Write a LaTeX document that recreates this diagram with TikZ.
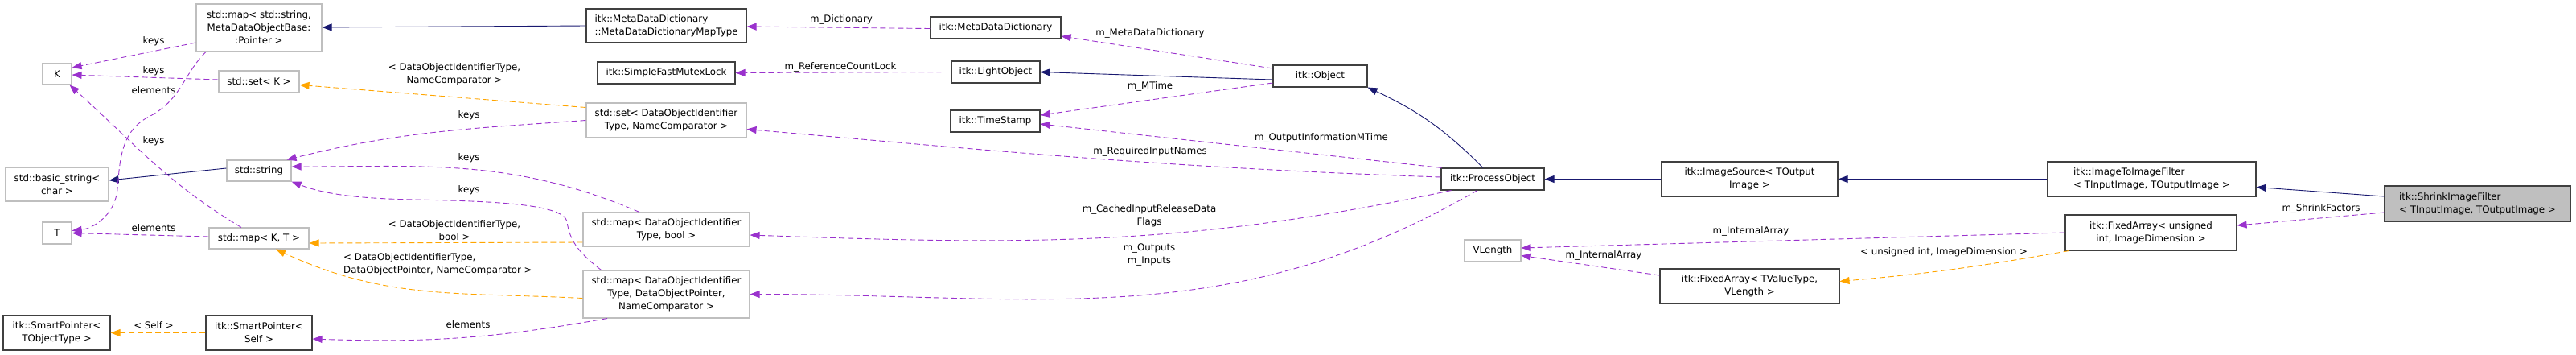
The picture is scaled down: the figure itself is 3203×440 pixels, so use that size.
\documentclass[tikz,border=0pt]{standalone}
\usepackage{fontspec}
\setmainfont{DejaVu Sans}
\usetikzlibrary{arrows.meta}
\definecolor{dxnavy}{HTML}{191970}
\definecolor{dxpurple}{HTML}{9A32CD}
\definecolor{dxorange}{HTML}{FFA500}
\definecolor{dxgray}{HTML}{BFBFBF}
\definecolor{dxdark}{HTML}{404040}

\begin{document}
\begin{tikzpicture}[x=1pt, y=1pt,
    font=\fontsize{11.8}{16}\selectfont,
    clsbox/.style={draw=dxdark, fill=white, line width=1.1pt, inner sep=0pt, align=center},
    extbox/.style={clsbox, draw=dxgray},
    inhedge/.style={draw=dxnavy, line width=0.9pt, -{Triangle[length=12pt,width=9pt]}},
    usesedge/.style={draw=dxpurple, line width=0.9pt, dash pattern=on 7pt off 4pt,
                     -{Triangle[length=12pt,width=9pt]}},
    tmpledge/.style={usesedge, draw=dxorange},
    edgelbl/.style={inner sep=0pt, align=center}
  ]
    \useasboundingbox (0,0) rectangle (3203,-440);

    % classes
    \node[extbox, minimum width=156pt, minimum height=59pt] (mapss) at (322,-34.5)
      {std::map< std::string,\\MetaDataObjectBase:\\:Pointer >};
    \node[extbox, minimum width=36pt, minimum height=26pt] (K) at (71,-92) {K};
    \node[extbox, minimum width=100pt, minimum height=27pt] (setK) at (322,-101.5) {std::set< K >};
    \node[extbox, minimum width=80pt, minimum height=26pt] (str) at (322,-212) {std::string};
    \node[extbox, minimum width=128pt, minimum height=42pt] (bstr) at (71,-229)
      {std::basic\_string<\\char >};
    \node[extbox, minimum width=36pt, minimum height=27pt] (T) at (71,-289.5) {T};
    \node[extbox, minimum width=124pt, minimum height=26pt] (mapKT) at (322,-296) {std::map< K, T >};
    \node[clsbox, minimum width=133pt, minimum height=43pt] (spT) at (70.5,-413.5)
      {itk::SmartPointer<\\TObjectType >};
    \node[clsbox, minimum width=132pt, minimum height=43pt] (spS) at (322,-413.5)
      {itk::SmartPointer<\\Self >};
    \node[clsbox, minimum width=199pt, minimum height=42pt, align=left] (mddmt) at (828.5,-32)
      {itk::MetaDataDictionary\\::MetaDataDictionaryMapType};
    \node[clsbox, minimum width=171pt, minimum height=27pt] (sfml) at (828.5,-90.5) {itk::SimpleFastMutexLock};
    \node[extbox, minimum width=199pt, minimum height=43pt] (setDOI) at (828.5,-149.5)
      {std::set< DataObjectIdentifier\\Type, NameComparator >};
    \node[extbox, minimum width=207pt, minimum height=42pt] (mapDOIb) at (828.5,-285)
      {std::map< DataObjectIdentifier\\Type, bool >};
    \node[extbox, minimum width=207pt, minimum height=59pt] (mapDOIp) at (828.5,-365.5)
      {std::map< DataObjectIdentifier\\Type, DataObjectPointer,\hspace*{38pt}\\NameComparator >};
    \node[clsbox, minimum width=162pt, minimum height=27pt] (mdd) at (1238,-34.5) {itk::MetaDataDictionary};
    \node[clsbox, minimum width=110pt, minimum height=27pt] (lobj) at (1238,-89.5) {itk::LightObject};
    \node[clsbox, minimum width=111pt, minimum height=27pt] (ts) at (1237.5,-150.5) {itk::TimeStamp};
    \node[clsbox, minimum width=117pt, minimum height=27pt] (obj) at (1641.5,-94.5) {itk::Object};
    \node[clsbox, minimum width=128pt, minimum height=27pt] (po) at (1856,-222.5) {itk::ProcessObject};
    \node[clsbox, minimum width=219pt, minimum height=43pt] (isrc) at (2175.5,-222.5)
      {itk::ImageSource< TOutput\\Image >};
    \node[extbox, minimum width=70pt, minimum height=27pt] (vlen) at (1856,-311.5) {VLength};
    \node[clsbox, minimum width=223pt, minimum height=43pt] (faTV) at (2175.5,-355.5)
      {itk::FixedArray< TValueType,\\VLength >};
    \node[clsbox, minimum width=259pt, minimum height=43pt, align=left] (i2i) at (2675.5,-222.5)
      {itk::ImageToImageFilter\\< TInputImage, TOutputImage >};
    \node[clsbox, minimum width=213pt, minimum height=44pt] (faUI) at (2674.5,-289)
      {itk::FixedArray< unsigned\\int, ImageDimension >};
    \node[clsbox, fill=dxgray, minimum width=231pt, minimum height=44pt, align=left] (sif) at (3080.5,-253)
      {itk::ShrinkImageFilter\\< TInputImage, TOutputImage >};

    % inheritance
    \draw[inhedge] (str.west) ++(0,3pt) -- ([yshift=5pt]bstr.east);
    \draw[inhedge] (mddmt.west) -- ([yshift=0.5pt]mapss.east);
    \draw[inhedge] ([yshift=-4.5pt]obj.west) -- (lobj.east);
    \draw[inhedge] ([xshift=-12pt]po.north) to[out=135,in=-25] (obj.south east);
    \draw[inhedge] (isrc.west) -- (po.east);
    \draw[inhedge] (i2i.west) -- (isrc.east);
    \draw[inhedge] ([yshift=9pt]sif.west) -- ([yshift=-10pt]i2i.east);

    % members
    \draw[usesedge] ([yshift=-18.5pt]mapss.west) -- ([yshift=8pt]K.east);
    \draw[usesedge] ([yshift=2.5pt]setK.west) -- ([yshift=-1pt]K.east);
    \draw[usesedge] ([xshift=-22pt]mapKT.north) to[out=149,in=-42] ([xshift=-3pt]K.south east);
    \draw[usesedge] ([xshift=-66pt]mapss.south)
      .. controls (228,-92) and (225,-125) .. (185,-145)
      .. controls (150,-163) and (149,-200) .. (146,-235)
      .. controls (143,-268) and (115,-284) .. ([yshift=3pt]T.east);
    \draw[usesedge] ([yshift=2pt]mapKT.west) -- (T.east);
    \draw[usesedge] ([yshift=-1pt]mdd.west) -- ([yshift=-1pt]mddmt.east);
    \draw[usesedge] (lobj.west) -- (sfml.east);
    \draw[usesedge] ([yshift=9.5pt]obj.west) -- ([yshift=-10.5pt]mdd.east);
    \draw[usesedge] ([yshift=-8.5pt]obj.west) -- ([yshift=7.5pt]ts.east);
    \draw[usesedge] ([xshift=1pt]po.north west) -- ([yshift=-3.5pt]ts.east);
    \draw[usesedge] ([yshift=2.5pt]po.west) to[out=178,in=-5] ([yshift=-11pt]setDOI.east);
    \draw[usesedge] ([xshift=13pt]po.south west) to[out=192,in=-2] ([yshift=-7pt]mapDOIb.east);
    \draw[usesedge] ([xshift=-19pt]po.south) to[out=210,in=0] (mapDOIp.east);
    \draw[usesedge] (setDOI.west) to[out=184,in=14] ([xshift=-6pt]str.north east);
    \draw[usesedge] ([xshift=-33.5pt]mapDOIb.north) to[out=157,in=0] ([yshift=5pt]str.east);
    \draw[usesedge] ([xshift=-81pt]mapDOIp.north)
      .. controls (722,-316) and (708,-300) .. (705,-275)
      .. controls (700,-252) and (600,-250) .. (520,-248)
      .. controls (440,-247) and (400,-240) .. (str.south east);
    \draw[usesedge] ([xshift=-73.5pt]mapDOIp.south) to[out=190,in=-2] ([yshift=-7.5pt]spS.east);
    \draw[usesedge] ([yshift=-11pt]sif.west) -- ([yshift=9pt]faUI.east);
    \draw[usesedge] (faUI.west) -- ([yshift=3.5pt]vlen.east);
    \draw[usesedge] ([yshift=13.5pt]faTV.west) -- ([yshift=-6pt]vlen.east);

    % template instances
    \draw[tmpledge] ([yshift=16pt]setDOI.west) -- ([yshift=-4pt]setK.east);
    \draw[tmpledge] ([yshift=-16pt]mapDOIb.west) -- ([yshift=-6pt]mapKT.east);
    \draw[tmpledge] ([yshift=-5pt]mapDOIp.west) to[out=177,in=-25] ([xshift=21pt]mapKT.south);
    \draw[tmpledge] (spS.west) -- (spT.east);
    \draw[tmpledge] ([xshift=5pt]faUI.south west) to[out=190,in=5] ([yshift=6pt]faTV.east);

    % edge labels
    \node[edgelbl] (lkeysA) at (191,-51) {keys};
    \node[edgelbl] (lkeysB) at (191,-88) {keys};
    \node[edgelbl] (lkeysC) at (191,-175) {keys};
    \node[edgelbl] (lelemA) at (191,-112) {elements};
    \node[edgelbl] (lelemB) at (191,-283) {elements};
    \node[edgelbl] (lself) at (191,-404) {< Self >};
    \node[edgelbl] (ldict) at (1046,-24) {m\_Dictionary};
    \node[edgelbl] (lrcl) at (1045,-83) {m\_ReferenceCountLock};
    \node[edgelbl] (lmdd) at (1430,-41) {m\_MetaDataDictionary};
    \node[edgelbl] (lmtime) at (1430,-107) {m\_MTime};
    \node[edgelbl] (loimt) at (1643,-171) {m\_OutputInformationMTime};
    \node[edgelbl] (lrin) at (1430,-188) {m\_RequiredInputNames};
    \node[edgelbl] (lcirf) at (1429,-268) {m\_CachedInputReleaseData\\Flags};
    \node[edgelbl] (lio) at (1429,-317) {m\_Outputs\\m\_Inputs};
    \node[edgelbl] (lsf) at (2886,-259) {m\_ShrinkFactors};
    \node[edgelbl] (liaA) at (2177,-287) {m\_InternalArray};
    \node[edgelbl] (liaB) at (1994,-317) {m\_InternalArray};
    \node[edgelbl] (lui) at (2417,-313) {< unsigned int, ImageDimension >};
    \node[edgelbl] (lkeysD) at (583,-143) {keys};
    \node[edgelbl] (lkeysE) at (583,-196) {keys};
    \node[edgelbl] (lkeysF) at (583,-236) {keys};
    \node[edgelbl] (ldoiA) at (565,-92) {< DataObjectIdentifierType,\\NameComparator >};
    \node[edgelbl] (ldoiB) at (565,-286) {< DataObjectIdentifierType,\\bool >};
    \node[edgelbl, align=left, anchor=west] (ldoiC) at (427,-328.5)
      {< DataObjectIdentifierType,\\DataObjectPointer, NameComparator >};
    \node[edgelbl] (lelemC) at (582,-403) {elements};
  \end{tikzpicture}
\end{document}
